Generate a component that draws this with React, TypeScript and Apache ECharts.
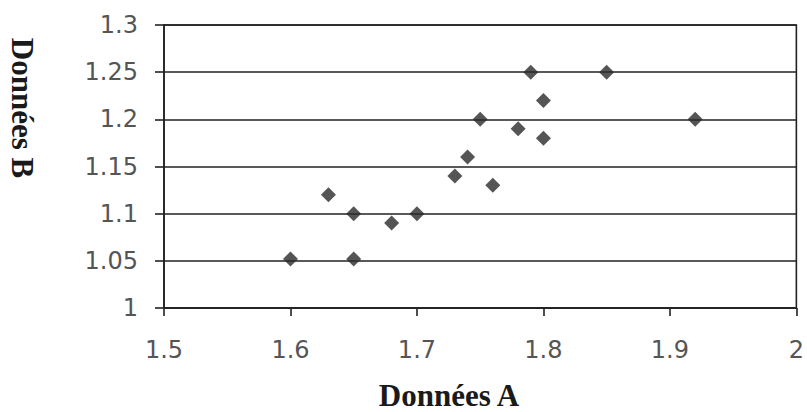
import React, { useEffect, useRef } from "react";
import * as echarts from "echarts";

const dataA: number[] = [1.6, 1.65, 1.65, 1.68, 1.7, 1.63, 1.73, 1.74, 1.76, 1.75, 1.78, 1.8, 1.8, 1.79, 1.85, 1.92];
const dataB: number[] = [1.052, 1.052, 1.1, 1.09, 1.1, 1.12, 1.14, 1.16, 1.13, 1.2, 1.19, 1.22, 1.18, 1.25, 1.25, 1.2];
const xTitle = "Données A";
const yTitle = "Données B";

export default function App() {
  const ref = useRef<HTMLDivElement>(null);
  useEffect(() => {
    if (!ref.current) return;
    const chart = echarts.init(ref.current, undefined, { renderer: "svg" });
    const labelStyle = {
      color: "#555",
      fontFamily: "DejaVu Sans",
      fontSize: 24,
    };
    const lineColor = "#222";
    chart.setOption({
      animation: false,
      backgroundColor: "#fff",
      grid: {
        left: 164,
        top: 25,
        width: 636,
        height: 283,
        show: true,
        borderColor: lineColor,
        borderWidth: 1.6,
        backgroundColor: "transparent",
      },
      xAxis: {
        type: "value",
        min: 1.5,
        max: 2,
        interval: 0.1,
        axisLine: { show: true, onZero: false, lineStyle: { color: lineColor, width: 1.6 } },
        axisTick: { show: true, inside: false, length: 8, lineStyle: { color: lineColor, width: 1.6 } },
        splitLine: { show: false },
        axisLabel: { ...labelStyle, margin: 30, formatter: (v: number) => String(Math.round(v * 10) / 10) },
      },
      yAxis: {
        type: "value",
        min: 1,
        max: 1.3,
        interval: 0.05,
        axisLine: { show: true, onZero: false, lineStyle: { color: lineColor, width: 1.6 } },
        axisTick: { show: true, inside: false, length: 9, lineStyle: { color: lineColor, width: 1.6 } },
        splitLine: { show: true, lineStyle: { color: lineColor, width: 1.6 } },
        axisLabel: { ...labelStyle, margin: 26, formatter: (v: number) => String(Math.round(v * 100) / 100) },
      },
      series: [
        {
          type: "scatter",
          symbol: "diamond",
          symbolSize: 15,
          itemStyle: { color: "#2b2b2b" },
          data: dataA.map((a, i) => [a, dataB[i]]),
        },
      ],
      graphic: [
        {
          type: "text",
          x: 449,
          y: 395,
          style: {
            text: xTitle,
            align: "center",
            verticalAlign: "middle",
            font: "bold 31px 'Liberation Serif'",
            fill: "#1a1a1a",
          },
        },
        {
          type: "text",
          x: 22,
          y: 108,
          rotation: -Math.PI / 2,
          style: {
            text: yTitle,
            align: "center",
            verticalAlign: "middle",
            font: "bold 31px 'Liberation Serif'",
            fill: "#1a1a1a",
          },
        },
      ],
    });
    return () => chart.dispose();
  }, []);
  return (
    <div
      ref={ref}
      style={{ position: "fixed", left: 0, top: 0, width: 807, height: 412, background: "#fff" }}
    />
  );
}
